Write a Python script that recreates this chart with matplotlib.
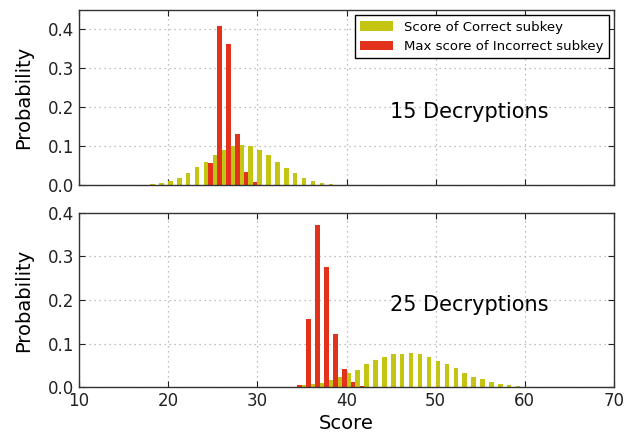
import matplotlib
matplotlib.use("Agg")
import matplotlib.pyplot as plt
import numpy as np

# Top panel: 15 decryptions
scores_top = np.arange(18, 39)
correct_15 = [0.002, 0.004, 0.011, 0.019, 0.031, 0.045, 0.060, 0.077, 0.090, 0.099,
              0.102, 0.099, 0.090, 0.076, 0.059, 0.044, 0.030, 0.019, 0.011, 0.006, 0.003]
incorrect_scores_15 = [24, 25, 26, 27, 28, 29]
incorrect_15 = [0.057, 0.410, 0.363, 0.130, 0.033, 0.007]

# Bottom panel: 25 decryptions
scores_bot = np.arange(34, 60)
correct_25 = [0.001, 0.004, 0.006, 0.010, 0.015, 0.022, 0.032, 0.040, 0.052, 0.061,
              0.070, 0.075, 0.077, 0.079, 0.075, 0.070, 0.060, 0.053, 0.043, 0.033,
              0.024, 0.018, 0.012, 0.008, 0.005, 0.002]
incorrect_scores_25 = [34, 35, 36, 37, 38, 39, 40, 41]
incorrect_25 = [0.005, 0.156, 0.372, 0.277, 0.122, 0.041, 0.011, 0.002]

labels = ["Score of Correct subkey", "Max score of Incorrect subkey"]
panel_texts = ["15 Decryptions", "25 Decryptions"]
yticks = [0.0, 0.1, 0.2, 0.3, 0.4]
xticks = [10, 20, 30, 40, 50, 60, 70]

YEL = "#c4c413"
RED = "#e3321b"

fig = plt.figure(figsize=(6.34, 4.37), dpi=100)
ax1 = fig.add_axes([0.1246, 0.5767, 0.8439, 0.4003])
ax2 = fig.add_axes([0.1246, 0.1144, 0.8439, 0.3982])

panels = [
    (ax1, scores_top, correct_15, incorrect_scores_15, incorrect_15, 0.45, panel_texts[0], 0.417),
    (ax2, scores_bot, correct_25, incorrect_scores_25, incorrect_25, 0.4, panel_texts[1], 0.47),
]
for ax, xs, ys, xr, yr, ymax, txt, ty in panels:
    ax.bar(xs, ys, width=0.5, align="edge", color=YEL, edgecolor="none", linewidth=0,
           label=labels[0])
    ax.bar(np.array(xr) + 0.5, yr, width=0.5, align="edge", color=RED, edgecolor="none",
           linewidth=0, label=labels[1])
    ax.set_xlim(10, 70)
    ax.set_ylim(0, ymax)
    ax.set_xticks(xticks)
    ax.set_yticks(yticks)
    ax.grid(True, linestyle=(0, (1, 3)), color="#aaaaaa", linewidth=0.9)
    ax.set_axisbelow(True)
    ax.tick_params(direction="in", top=True, right=True, labelsize=12, length=4,
                   colors="#222222")
    for s in ax.spines.values():
        s.set_color("#333333")
        s.set_linewidth(1.0)
    ax.set_ylabel("Probability", fontsize=14)
    ax.text(0.582, ty, txt, transform=ax.transAxes, fontsize=15,
            va="center", ha="left")

ax1.tick_params(labelbottom=False)
ax2.set_xlabel("Score", fontsize=14, labelpad=3)
ax1.yaxis.set_label_coords(-0.085, 0.5)
ax2.yaxis.set_label_coords(-0.085, 0.5)

leg = ax1.legend(loc="upper right", fontsize=9.5, frameon=True, fancybox=False,
                 edgecolor="black", handlelength=2.5, borderaxespad=0.4,
                 framealpha=1)
leg.get_frame().set_linewidth(1.0)

fig.savefig("out.png", dpi=100, facecolor="white")
